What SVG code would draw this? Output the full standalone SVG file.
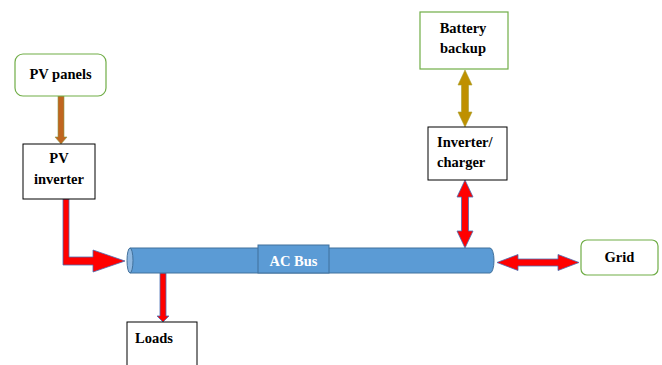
<svg xmlns="http://www.w3.org/2000/svg" width="662" height="365" viewBox="0 0 662 365">
<style>
.t{font-family:"Liberation Serif","Times New Roman",serif;font-weight:bold;font-size:14.5px;fill:#000}
.blk{fill:#fff;stroke:#000;stroke-width:1}
.grn{fill:#fff;stroke:#70ad47;stroke-width:1.2}
.red{fill:#ff0000;stroke:#4a6fb5;stroke-width:0.8}
</style>
<rect width="662" height="365" fill="#fff"/>
<g id="connectors">
<polygon points="58,96 64,96 64,137 67,137 61,144 55,137 58,137" fill="#c0651f" stroke="#8a9a4a" stroke-width="0.6"/>
<path class="red" d="M63,199 H69 V257 H93 V250 L125,261 L93,272 V265 H63 Z"/>
<polygon class="red" points="160,273 166,273 166,316 169,316 163,322 157,316 160,316"/>
<polygon points="465,70 472,85 468.5,85 468.5,112 472,112 465,127 458,112 461.5,112 461.5,85 458,85" fill="#bf9000" stroke="#a8a030" stroke-width="0.6"/>
<polygon class="red" points="465,180 473,197 468.5,197 468.5,231 473,231 465,248 457,231 461.5,231 461.5,197 457,197"/>
<polygon class="red" points="497,262.5 518,254.5 518,259 558,259 558,254.5 579,262.5 558,270.5 558,266 518,266 518,270.5"/>
</g>
<g id="ac-bus">
<path d="M130,248 H490 A4,12.5 0 0 1 490,273 H130 Z" fill="#5b9bd5" stroke="#41719c" stroke-width="1"/>
<ellipse cx="130" cy="260.5" rx="3" ry="12.5" fill="#8fb8e0" stroke="#41719c" stroke-width="1"/>
<rect x="258" y="245" width="71" height="28" fill="#5b9bd5" stroke="#41719c" stroke-width="1"/>
<text x="293.5" y="266" text-anchor="middle" class="t" style="fill:#fff">AC Bus</text>
</g>
<g id="pv-panels">
<rect x="15" y="54" width="91" height="42" rx="8" class="grn"/>
<text x="60.5" y="79" text-anchor="middle" class="t">PV panels</text>
</g>
<g id="pv-inverter">
<rect x="23" y="144" width="72" height="55" class="blk"/>
<text x="59" y="163" text-anchor="middle" class="t">PV</text>
<text x="59" y="184" text-anchor="middle" class="t">inverter</text>
</g>
<g id="battery-backup">
<rect x="420" y="12" width="88" height="57" class="grn"/>
<text x="463" y="33" text-anchor="middle" class="t">Battery</text>
<text x="463" y="53" text-anchor="middle" class="t">backup</text>
</g>
<g id="inverter-charger">
<rect x="428" y="127" width="79" height="53" class="blk"/>
<text x="437" y="147" class="t">Inverter/</text>
<text x="437" y="167" class="t">charger</text>
</g>
<g id="grid">
<rect x="581" y="240" width="77" height="35" rx="6" class="grn"/>
<text x="619.5" y="262" text-anchor="middle" class="t">Grid</text>
</g>
<g id="loads">
<rect x="127" y="322" width="70" height="50" class="blk"/>
<text x="135" y="343" class="t">Loads</text>
</g>
</svg>
